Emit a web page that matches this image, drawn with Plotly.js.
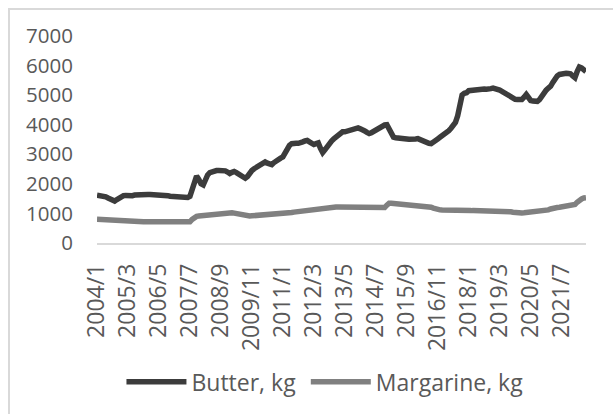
<!DOCTYPE html>
<html>
<head>
<meta charset="utf-8">
<script src="https://cdn.plot.ly/plotly-3.0.1.min.js"></script>
<style>
html,body{margin:0;padding:0;background:#fff;}
#frame{position:absolute;left:8px;top:8px;width:620px;height:420px;border-left:2px solid #d9d9d9;border-top:2px solid #d9d9d9;}
#chart{position:absolute;left:0;top:0;width:613px;height:414px;}
</style>
</head>
<body>
<div id="frame"></div>
<div id="chart"></div>
<script>
// Monthly series, 2004/1 onward
var startYear = 2004;
var butter = [
1615,1610,1600,1590,1560,1520,1480,1450,1420,1470,
1530,1580,1600,1610,1600,1610,1600,1620,1630,1630,
1630,1640,1640,1640,1640,1640,1630,1640,1640,1630,
1630,1620,1600,1580,1570,1560,1560,1550,1540,1530,
1530,1540,1580,1800,2100,2260,2150,2000,1960,2150,
2300,2380,2410,2440,2450,2450,2460,2460,2440,2400,
2350,2390,2420,2380,2320,2260,2220,2190,2250,2380,
2450,2510,2560,2620,2680,2720,2740,2700,2660,2650,
2720,2790,2820,2870,2910,3050,3200,3300,3360,3380,
3370,3370,3380,3420,3450,3470,3420,3360,3330,3360,
3385,3200,3060,3150,3280,3380,3450,3520,3580,3640,
3700,3760,3760,3780,3820,3860,3880,3900,3890,3860,
3840,3790,3740,3700,3730,3770,3810,3870,3940,3980,
3990,4000,3850,3700,3580,3560,3560,3550,3550,3540,
3520,3510,3500,3510,3520,3530,3500,3450,3400,3385,
3370,3360,3400,3460,3520,3575,3620,3670,3720,3800,
3880,3950,4080,4300,4750,5000,5060,5080,5150,5160,
5170,5190,5210,5220,5220,5210,5200,5195,5220,5240,
5230,5200,5170,5130,5080,5020,4960,4910,4880,4860,
4850,4860,4850,4930,5020,4920,4820,4800,4790,4790,
4850,4980,5090,5170,5240,5300,5430,5580,5650,5700,
5725,5730,5740,5730,5720,5650,5590,5800,5950,5920,
5860,5800
];
var margarine = [
800,795,790,780,770,760,750,748,745,742,
740,740,738,735,732,730,728,725,722,720,
720,718,716,715,715,715,715,715,715,715,
715,715,715,715,715,715,715,715,715,715,
715,715,718,800,880,900,910,920,930,945,
955,965,975,985,995,1000,1010,1015,1020,1030,
1030,1025,1010,990,970,950,930,920,915,915,
920,925,930,935,940,940,945,945,950,950,
955,955,960,960,965,975,990,1010,1030,1045,
1055,1065,1070,1080,1095,1110,1130,1145,1160,1170,
1180,1185,1190,1195,1200,1205,1210,1215,1215,1220,
1220,1225,1230,1235,1240,1240,1240,1235,1230,1225,
1220,1215,1210,1205,1200,1200,1200,1200,1200,1200,
1200,1280,1340,1340,1335,1330,1320,1310,1300,1300,
1295,1290,1280,1270,1260,1255,1245,1240,1230,1225,
1220,1210,1180,1150,1130,1120,1115,1110,1110,1105,
1100,1100,1095,1095,1095,1090,1090,1090,1090,1095,
1100,1100,1100,1100,1100,1100,1100,1100,1100,1100,
1100,1100,1095,1090,1090,1080,1070,1055,1040,1025,
1020,1015,1015,1020,1025,1030,1035,1040,1045,1050,
1055,1060,1070,1090,1120,1150,1180,1190,1200,1210,
1220,1230,1240,1245,1250,1260,1300,1380,1450,1490,
1520,1530
];
var tickLabels = ["2004/1","2005/3","2006/5","2007/7","2008/9","2009/11","2011/1","2012/3","2013/5","2014/7","2015/9","2016/11","2018/1","2019/3","2020/5","2021/7"];
var yTicks = [0,1000,2000,3000,4000,5000,6000,7000];

var months = [];
for (var i = 0; i < butter.length; i++) {
  var y = startYear + Math.floor(i / 12);
  var m = (i % 12) + 1;
  months.push(y + "/" + m);
}

var fam = "Open Sans, Liberation Sans, sans-serif";
var yFont = {family: fam, size: 20.5, color: "#595959"};
var xFont = {family: fam, size: 23, color: "#595959"};
var legFont = {family: fam, size: 23, color: "#595959"};

var traces = [
  {x: months, y: butter, type: "scatter", mode: "lines", name: "Butter, kg",
   line: {color: "#3c3c3c", width: 5.5}, legend: "legend"},
  {x: months, y: margarine, type: "scatter", mode: "lines", name: "Margarine, kg",
   line: {color: "#808080", width: 5.5}, legend: "legend2"}
];

var legBase = {orientation: "h", yanchor: "middle", y: -0.671, xanchor: "left",
               font: legFont, itemwidth: 60, bgcolor: "rgba(0,0,0,0)"};

var layout = {
  width: 613, height: 414,
  margin: {l: 97, r: 27, t: 36, b: 171, autoexpand: false},
  paper_bgcolor: "rgba(0,0,0,0)",
  plot_bgcolor: "rgba(0,0,0,0)",
  font: yFont,
  showlegend: true,
  legend: Object.assign({}, legBase, {x: 0.05}),
  legend2: Object.assign({}, legBase, {x: 0.427}),
  xaxis: {type: "category", range: [0, butter.length - 1], tickmode: "array",
          tickvals: tickLabels, ticktext: tickLabels, tickangle: -90,
          showgrid: false, showline: true, linecolor: "#d9d9d9", linewidth: 1.5,
          ticks: "", zeroline: false, tickfont: xFont, ticklabelstandoff: 10,
          automargin: false},
  yaxis: {range: [0, 7000], tickmode: "array", tickvals: yTicks,
          showgrid: false, zeroline: false, showline: false, ticks: "",
          tickfont: yFont, ticklabelstandoff: 23, automargin: false}
};

Plotly.newPlot("chart", traces, layout, {displayModeBar: false, staticPlot: true});
</script>
</body>
</html>
